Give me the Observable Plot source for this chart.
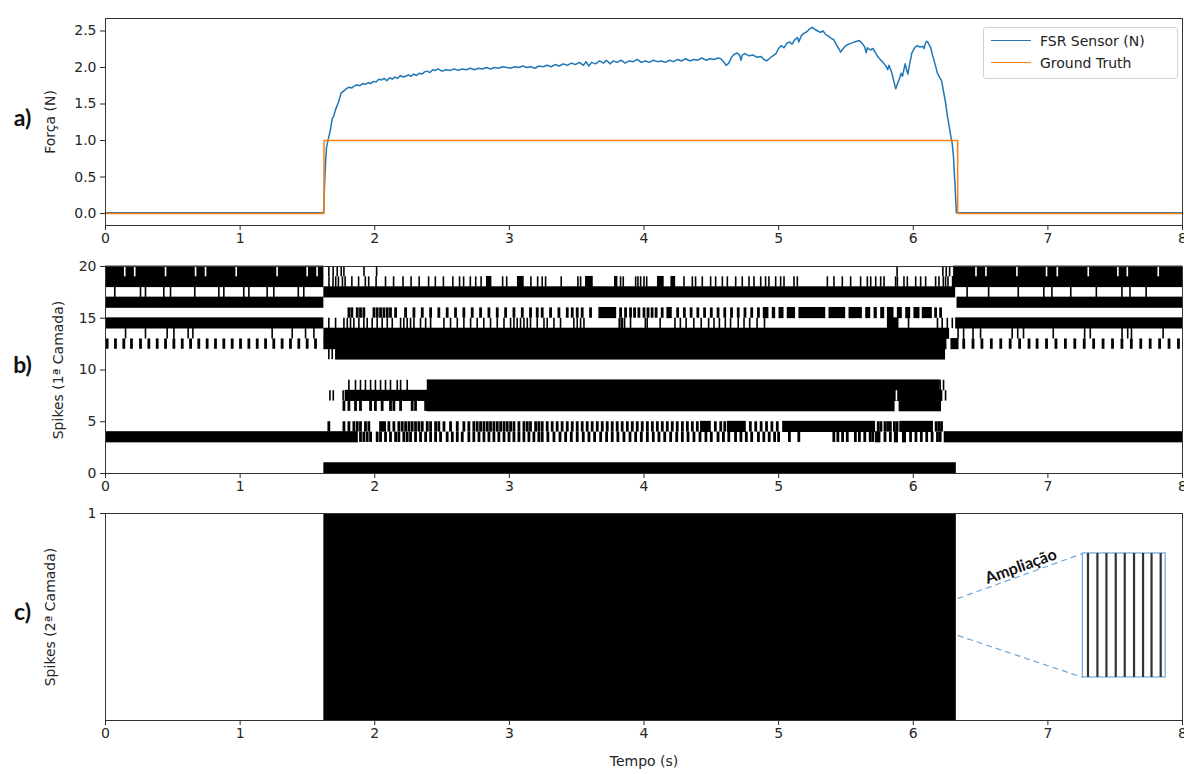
<!DOCTYPE html>
<html><head><meta charset="utf-8">
<script src="https://cdn.jsdelivr.net/npm/d3@7"></script>
<script src="https://cdn.jsdelivr.net/npm/@observablehq/plot@0.6"></script>
<style>
html,body{margin:0;padding:0;background:#fff;overflow:hidden}
#wrap{position:relative;width:1184px;height:774px;overflow:hidden;background:#fff}
.panel{position:absolute;left:0}
#legend{position:absolute;left:983px;top:27px;width:195px;height:52px;border:1px solid #d3d3d3;border-radius:3px;background:rgba(255,255,255,0.85);font:14px "DejaVu Sans",sans-serif;color:#222;box-sizing:border-box}
#legend .item{position:absolute;left:0;height:20px;width:100%}
#legend .sw{position:absolute;left:7px;top:9px;width:40px;height:0;border-top:1.6px solid}
#legend .lb{position:absolute;left:56px;top:0;line-height:20px;white-space:nowrap}
</style></head><body>
<div id="wrap">
  <div id="legend">
    <div class="item" style="top:3px"><div class="sw" style="border-color:#1f77b4"></div><div class="lb">FSR Sensor (N)</div></div>
    <div class="item" style="top:25px"><div class="sw" style="border-color:#ff7f0e"></div><div class="lb">Ground Truth</div></div>
  </div>
</div>
<script>
// ---------- axes ----------
const xTicks = [0, 1, 2, 3, 4, 5, 6, 7, 8];
const forceTicks = [0, 0.5, 1, 1.5, 2, 2.5];
const spikeTicks = [0, 5, 10, 15, 20];
const layer2Ticks = [1];

// ---------- panel a: force ----------
const fsrTime = [0,1.62,1.628,1.635,1.642,1.655,1.67,1.684,1.695,1.71,1.73,1.75,1.77,1.79,1.81,1.83,1.85,1.87,1.89,1.91,1.93,1.95,1.97,1.99,2.01,2.03,2.05,2.07,2.09,2.11,2.13,2.15,2.17,2.19,2.21,2.23,2.25,2.27,2.29,2.31,2.33,2.35,2.37,2.39,2.41,2.43,2.45,2.47,2.5,2.53,2.56,2.59,2.62,2.65,2.68,2.71,2.74,2.77,2.8,2.83,2.86,2.89,2.92,2.95,2.98,3.01,3.04,3.07,3.1,3.13,3.16,3.19,3.22,3.25,3.28,3.31,3.34,3.37,3.4,3.43,3.46,3.49,3.52,3.55,3.57,3.59,3.61,3.64,3.67,3.7,3.72,3.75,3.77,3.8,3.83,3.86,3.89,3.92,3.95,3.98,4.01,4.04,4.07,4.1,4.13,4.16,4.19,4.22,4.25,4.28,4.31,4.34,4.37,4.4,4.43,4.46,4.49,4.52,4.55,4.57,4.59,4.61,4.63,4.65,4.67,4.69,4.71,4.72,4.73,4.75,4.78,4.81,4.84,4.87,4.89,4.91,4.93,4.95,4.98,5.0,5.02,5.04,5.06,5.08,5.1,5.12,5.14,5.15,5.17,5.19,5.21,5.23,5.25,5.27,5.29,5.31,5.33,5.35,5.37,5.39,5.41,5.43,5.45,5.46,5.48,5.5,5.52,5.55,5.58,5.6,5.62,5.64,5.65,5.66,5.68,5.7,5.72,5.74,5.76,5.78,5.8,5.81,5.82,5.84,5.86,5.87,5.88,5.9,5.91,5.92,5.94,5.95,5.96,5.97,5.99,6.01,6.03,6.05,6.07,6.08,6.09,6.1,6.11,6.13,6.14,6.16,6.18,6.2,6.21,6.22,6.23,6.24,6.25,6.26,6.27,6.28,6.29,6.3,6.305,6.31,6.315,6.32,8];
const fsrForce = [0.01,0.01,0.45,0.7,0.91,1.02,1.14,1.3,1.33,1.43,1.52,1.65,1.68,1.71,1.73,1.72,1.75,1.76,1.75,1.78,1.77,1.79,1.78,1.81,1.8,1.84,1.83,1.85,1.82,1.86,1.84,1.87,1.85,1.89,1.87,1.88,1.9,1.88,1.91,1.89,1.92,1.91,1.94,1.95,1.93,1.97,1.96,1.98,1.95,1.97,1.96,1.98,1.96,1.98,1.97,1.99,1.97,1.99,1.98,2.0,1.98,2.0,1.99,2.01,2.0,1.99,2.01,2.0,2.02,2.0,2.01,1.99,2.02,2.01,2.03,2.01,2.04,2.02,2.05,2.03,2.06,2.04,2.07,2.03,2.08,2.02,2.07,2.05,2.09,2.06,2.1,2.05,2.09,2.07,2.1,2.06,2.09,2.08,2.11,2.07,2.09,2.07,2.1,2.08,2.09,2.07,2.1,2.08,2.11,2.09,2.12,2.09,2.11,2.1,2.13,2.1,2.12,2.11,2.13,2.12,2.08,2.03,2.06,2.14,2.18,2.2,2.17,2.1,2.17,2.19,2.16,2.17,2.14,2.15,2.11,2.09,2.12,2.15,2.19,2.26,2.3,2.27,2.33,2.35,2.32,2.38,2.41,2.35,2.44,2.47,2.49,2.53,2.55,2.52,2.5,2.48,2.5,2.45,2.43,2.4,2.38,2.31,2.25,2.21,2.26,2.3,2.32,2.34,2.36,2.37,2.33,2.28,2.2,2.27,2.24,2.26,2.2,2.14,2.1,2.06,2.01,1.97,2.03,1.93,1.78,1.71,1.76,1.86,1.92,1.88,2.05,1.97,1.91,2.02,2.2,2.27,2.3,2.28,2.29,2.26,2.33,2.36,2.34,2.27,2.19,2.06,1.92,1.85,1.82,1.72,1.62,1.52,1.38,1.27,1.16,1.05,0.95,0.75,0.55,0.41,0.2,0.01,0.01];
const truthTime = [0, 1.623, 1.623, 6.33, 6.33, 8];
const truthForce = [0, 0, 1, 1, 0, 0];

// ---------- panel b: first-layer raster (row, start, end) ----------
const solidBlocks = [
  [19,0,1.622],[19,6.30,8],
  [18,0,1.622],[18,2.83,2.87],[18,3.06,3.11],[18,3.566,3.623],[18,3.781,3.806],[18,4.10,4.15],[18,4.20,4.235],[18,6.29,8],
  [17,1.622,6.315],
  [16,0,1.622],[16,6.325,8],
  [15,3.665,3.797],[15,4.17,4.21],[15,4.886,4.928],[15,4.953,4.978],[15,5.003,5.04],[15,5.064,5.126],[15,5.151,5.35],[15,5.374,5.498],[15,5.523,5.622],[15,5.647,5.684],[15,5.709,5.733],[15,5.758,5.788],[15,5.808,5.857],[15,5.882,5.919],[15,5.944,5.981],[15,6.005,6.05],[15,6.067,6.142],
  [14,0,1.622],[14,5.808,5.894],[14,6.315,8],
  [13,1.622,6.27],
  [12,1.622,6.25],[12,6.28,6.34],
  [11,1.709,6.24],
  [8,2.39,6.20],
  [7,1.78,6.22],
  [6,2.39,5.865],[6,5.895,6.21],
  [4,4.42,4.50],[4,4.62,4.76],[4,5.03,5.72],[4,5.90,6.15],
  [3,0,1.878],[3,5.72,5.76],[3,5.86,5.89],[3,5.92,5.95],[3,6.23,8],
  [0,1.622,6.32]
];
// single spikes (row, times)
const thinSpikes = [
  [19,[1.659,1.691,1.721,1.751,1.771,1.92,2.014,5.88,6.22,6.245,6.27]],
  [18,[1.66,1.69,1.71,1.73,1.76,1.78,1.83,1.88,1.93,1.955,2.01,2.08,2.14,2.21,2.27,2.33,2.40,2.45,2.51,2.58,2.63,2.66,2.71,2.75,2.79,2.95,2.98,3.16,3.21,3.244,3.269,3.385,3.509,3.529,3.826,3.846,3.938,3.955,3.975,4.0,4.02,4.297,4.359,4.383,4.433,4.495,4.532,4.582,4.619,4.681,4.73,4.78,4.817,4.867,4.903,4.928,4.978,5.015,5.04,5.114,5.139,5.362,5.411,5.473,5.535,5.609,5.659,5.684,5.721,5.758,5.783,5.869,5.882,5.931,5.956,6.018,6.055,6.092,6.166,6.191,6.223,6.24,6.258]],
  [17,[0.069,0.26,0.297,0.433,0.483,0.663,0.842,0.879,1.027,1.065,1.201,1.25,1.432,1.473,6.40,6.56,6.78,6.97,7.03,7.17,7.36,7.55,7.61,7.73]],
  [14,[1.659,1.709,1.771,1.796,1.82,1.845,1.882,1.919,1.944,1.981,2.018,2.055,2.093,2.13,2.192,2.216,2.241,2.266,2.291,2.34,2.378,2.415,2.514,2.563,2.613,2.662,2.712,2.761,2.81,2.86,2.91,2.96,3.009,3.034,3.058,3.083,3.108,3.133,3.157,3.207,3.257,3.281,3.331,3.38,3.479,3.504,3.529,3.554,3.816,3.83,3.84,3.856,3.90,4.01,4.024,4.12,4.23,4.27,4.313,4.37,4.425,4.48,4.52,4.56,4.604,4.643,4.70,4.743,4.785,4.84,4.895,5.965,6.18,6.215,6.253,6.29]],
  [13,[0.149,0.297,0.458,0.508,0.614,0.649,1.238,1.387,1.486,1.548,6.333,6.374,6.444,6.50,6.735,6.776,6.819,7.04,7.273,7.315,7.551,7.593,7.621,7.856]],
  [11,[1.659,1.684]],
  [8,[1.808,1.857,1.894,1.931,1.969,2.005,2.043,2.08,2.117,2.167,2.192,2.241,6.20,6.225]],
  [7,[1.667,1.692,1.765,6.24]]
];
// wider bursts (row, times)
const burstSpikes = [
  [15,[1.808,1.83,1.87,1.894,1.919,1.994,2.018,2.043,2.068,2.093,2.117,2.155,2.229,2.291,2.353,2.415,2.476,2.538,2.6,2.662,2.724,2.786,2.848,2.91,2.972,3.034,3.096,3.157,3.207,3.244,3.306,3.368,3.43,3.467,3.504,3.541,3.603,3.826,3.863,3.9,3.93,3.962,4.0,4.03,4.06,4.09,4.135,4.25,4.30,4.35,4.40,4.45,4.50,4.55,4.60,4.65,4.70,4.75,4.80,4.85,6.166,6.203]],
  [12,[0.012,0.074,0.136,0.193,0.26,0.322,0.384,0.446,0.508,0.57,0.632,0.693,0.755,0.817,0.879,0.941,1.003,1.065,1.127,1.189,1.25,1.312,1.374,1.436,1.498,1.56,6.375,6.444,6.51,6.58,6.65,6.72,6.79,6.86,6.92,6.99,7.06,7.13,7.20,7.27,7.34,7.41,7.48,7.55,7.62,7.69,7.76,7.83,7.90,7.97]],
  [6,[1.771,1.808,1.857,1.894,1.969,2.005,2.055,2.117,2.142,2.192,2.278,2.303,2.378]],
  [4,[1.659,1.771,1.808,1.845,1.87,1.894,1.931,1.956,2.043,2.058,2.073,2.105,2.142,2.179,2.204,2.229,2.254,2.278,2.303,2.328,2.353,2.39,2.415,2.452,2.476,2.514,2.563,2.613,2.662,2.699,2.736,2.761,2.786,2.811,2.836,2.86,2.885,2.91,2.935,2.96,2.984,3.009,3.034,3.071,3.108,3.133,3.157,3.195,3.219,3.244,3.281,3.318,3.355,3.392,3.43,3.467,3.504,3.541,3.578,3.615,3.653,3.69,3.727,3.764,3.801,3.838,3.876,3.913,3.95,3.987,4.025,4.062,4.099,4.136,4.173,4.21,4.247,4.285,4.322,4.359,4.396,4.53,4.57,4.60,4.79,4.83,4.87,4.91,4.95,4.99,5.74,5.76,5.79,5.81,5.83,5.86,5.88,6.17,6.19,6.21]],
  [3,[1.894,1.919,1.944,1.969,2.018,2.043,2.08,2.117,2.155,2.179,2.216,2.241,2.266,2.303,2.34,2.378,2.415,2.452,2.489,2.538,2.576,2.613,2.65,2.699,2.736,2.774,2.811,2.848,2.885,2.922,2.96,2.997,3.034,3.071,3.108,3.145,3.182,3.219,3.244,3.286,3.331,3.376,3.418,3.46,3.504,3.549,3.591,3.633,3.678,3.722,3.764,3.806,3.851,3.896,3.938,3.98,4.025,4.069,4.111,4.154,4.198,4.243,4.285,4.327,4.371,4.416,4.46,4.50,4.55,4.59,4.63,4.68,4.72,4.76,4.80,4.85,4.89,4.93,4.97,5.0,5.08,5.15,5.41,5.44,5.475,5.51,5.57,5.60,5.64,5.68,5.70,5.79,5.83,5.98,6.02,6.06,6.10,6.14,6.18,6.20]]
];
// short silences inside continuous firing (row, times)
const silentSlits = [
  [19,[0.143,0.217,0.446,0.669,0.743,0.971,1.275,1.498,1.572,6.466,6.54,6.77,6.99,7.07,7.30,7.52,7.59,7.82]],
  [7,[5.875]]
];

// ---------- panel c: second layer ----------
const layer2Blocks = [[1.622, 6.32]];
const insetSpan = [7.26, 7.875];
const insetRange = [0.208, 0.807];
const insetSpikes = [7.298, 7.368, 7.435, 7.504, 7.571, 7.64, 7.707, 7.77, 7.838];
const guideLines = [[6.33, 0.589, 7.26, 0.807], [6.33, 0.411, 7.26, 0.208]];
const insetLabel = [6.80, 0.744, "Ampliação"];

// ---------- build ----------
const wrap = document.getElementById("wrap");
const common = {
  width: 1184, marginLeft: 105, marginRight: 2,
  style: {fontFamily: "DejaVu Sans", fontSize: "14px", color: "#262626", background: "transparent"}
};
const xOpt = {domain: [0, 8], ticks: xTicks, tickSize: 5, tickPadding: 3, label: null, tickFormat: d => String(d)};
const letter = (s, dy) => Plot.text([s], {frameAnchor: "left", dx: -83, dy, text: d => d, textAnchor: "middle", fontSize: 23, fontWeight: "bold", fontFamily: "Lato", fill: "#111"});
const ylab = (s, dx) => Plot.text([s], {frameAnchor: "left", dx, rotate: -90, text: d => d, textAnchor: "middle", fontSize: 14, fill: "#262626"});

function place(svg, top) {
  const d = document.createElement("div");
  d.className = "panel"; d.style.top = top + "px";
  d.appendChild(svg);
  wrap.insertBefore(d, document.getElementById("legend"));
}

const fsr = fsrTime.map((t, i) => ({t, v: fsrForce[i]}));
const truth = truthTime.map((t, i) => ({t, v: truthForce[i]}));

place(Plot.plot({
  ...common, height: 255, marginTop: 18, marginBottom: 30,
  x: xOpt,
  y: {domain: [-0.164, 2.671], ticks: forceTicks, tickFormat: d3.format(".1f"), tickSize: 5, tickPadding: 4, label: null},
  marks: [
    Plot.line(fsr, {x: "t", y: "v", stroke: "#1f77b4", strokeWidth: 1.5}),
    Plot.line(truth, {x: "t", y: "v", stroke: "#ff7f0e", strokeWidth: 1.5}),
    Plot.frame({stroke: "#333"}),
    ylab("Força (N)", -55),
    letter("a)", -3)
  ]
}), 0);

const blocks = solidBlocks.map(([row, t0, t1]) => ({row, t0, t1}));
const flat = trains => trains.flatMap(([row, times]) => times.map(t => ({row, t})));

place(Plot.plot({
  ...common, height: 267, marginTop: 30, marginBottom: 30,
  x: xOpt,
  y: {domain: [0, 20], ticks: spikeTicks, tickSize: 5, tickPadding: 4, label: null},
  marks: [
    Plot.rect(blocks, {x1: "t0", x2: "t1", y1: "row", y2: d => d.row + 1, fill: "black", insetTop: -0.4, insetBottom: -0.4}),
    Plot.ruleX(flat(thinSpikes), {x: "t", y1: "row", y2: d => d.row + 1, stroke: "black", strokeWidth: 1.6}),
    Plot.ruleX(flat(burstSpikes), {x: "t", y1: "row", y2: d => d.row + 1, stroke: "black", strokeWidth: 2.8}),
    Plot.ruleX(flat(silentSlits), {x: "t", y1: "row", y2: d => d.row + 1, stroke: "white", strokeWidth: 1.6}),
    Plot.frame({stroke: "#333"}),
    ylab("Spikes (1ª Camada)", -47),
    letter("b)", -4)
  ]
}), 236);

place(Plot.plot({
  ...common, height: 291, marginTop: 30, marginBottom: 54,
  x: xOpt,
  y: {domain: [0, 1], ticks: layer2Ticks, tickFormat: d => String(d), tickSize: 5, tickPadding: 4, label: null},
  marks: [
    Plot.rect(layer2Blocks, {x1: d => d[0], x2: d => d[1], y1: 0, y2: 1, fill: "black"}),
    Plot.link(guideLines, {x1: d => d[0], y1: d => d[1], x2: d => d[2], y2: d => d[3], stroke: "#6fa8dc", strokeWidth: 1.2, strokeDasharray: "6,4"}),
    Plot.rect([insetSpan], {x1: d => d[0], x2: d => d[1], y1: insetRange[0], y2: insetRange[1], fill: "white", stroke: "#6fa8dc", strokeWidth: 1.2}),
    Plot.ruleX(insetSpikes, {x: d => d, y1: insetRange[0], y2: insetRange[1], stroke: "#333", strokeWidth: 2.2}),
    Plot.text([insetLabel], {x: d => d[0], y: d => d[1], text: d => d[2], rotate: -20, fontSize: 16, fontWeight: "bold", fontFamily: "Lato", fill: "#111"}),
    Plot.frame({stroke: "#333"}),
    ylab("Spikes (2ª Camada)", -55),
    Plot.text(["Tempo (s)"], {frameAnchor: "bottom", dy: 45, text: d => d, fontSize: 14, fill: "#262626"}),
    letter("c)", -4)
  ]
}), 483);
</script>
</body></html>
